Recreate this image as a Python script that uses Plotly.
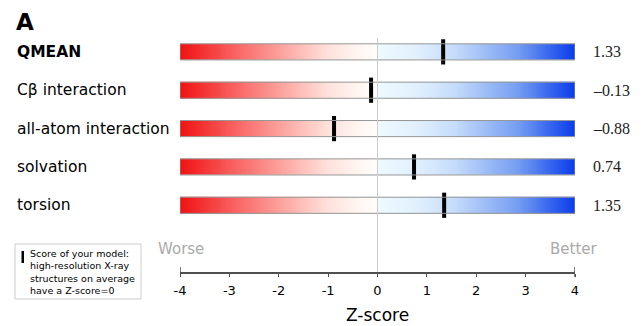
import numpy as np
import plotly.graph_objects as go

# Component scores (Z-scores) of the model
terms = ["QMEAN", "Cβ interaction", "all-atom interaction", "solvation", "torsion"]
scores = [1.33, -0.13, -0.88, 0.74, 1.35]
tick_vals = [-4, -3, -2, -1, 0, 1, 2, 3, 4]
tick_text = ["-4", "-3", "-2", "-1", "0", "1", "2", "3", "4"]

W, H = 644, 326
L, R, T, B = 180, 575, 35, 272          # plot area in pixels
Y_TOP, Y_BOT = -0.44, 5.74              # vertical data range (reversed)
X_MIN, X_MAX = -4, 4


def px(xp):
    return (xp - L) / (R - L)


def py(yp):
    return (B - yp) / (B - T)


idx = list(range(len(terms)))

# gradient bars: colour follows the Z value along each bar
N = 200
dx = (X_MAX - X_MIN) / N
xs = X_MIN + dx / 2 + dx * np.arange(N)
z = [list(xs) for _ in terms]
scale = [
    [0.0, "rgb(240,18,18)"],
    [0.125, "rgb(248,90,90)"],
    [0.25, "rgb(252,160,155)"],
    [0.375, "rgb(255,225,220)"],
    [0.45, "rgb(255,245,240)"],
    [0.499, "rgb(255,253,250)"],
    [0.501, "rgb(238,250,255)"],
    [0.60, "rgb(225,240,253)"],
    [0.70, "rgb(195,218,250)"],
    [0.85, "rgb(120,160,242)"],
    [1.0, "rgb(10,60,235)"],
]

fig = go.Figure()
fig.add_trace(go.Heatmap(
    z=z, x0=X_MIN + dx / 2, dx=dx, y=idx,
    colorscale=scale, zmin=X_MIN, zmax=X_MAX,
    showscale=False, ygap=22, hoverinfo="skip",
))

half = 0.21
shapes = []
for i in idx:
    shapes.append(dict(type="rect", xref="x", yref="y", x0=X_MIN, x1=X_MAX,
                       y0=i - half, y1=i + half,
                       line=dict(color="rgb(150,150,150)", width=1)))

# zero reference line
shapes.append(dict(type="line", xref="x", yref="y", x0=0, x1=0,
                   y0=-0.36, y1=Y_BOT,
                   line=dict(color="rgb(205,205,205)", width=1)))

# end caps of the Z-score ruler
for xv in (X_MIN, X_MAX):
    shapes.append(dict(type="line", xref="x", yref="paper", x0=xv, x1=xv,
                       y0=py(B + 5), y1=py(B - 5),
                       line=dict(color="rgb(80,80,80)", width=1.5)))

# legend box with its marker
shapes.append(dict(type="rect", xref="paper", yref="paper",
                   x0=px(15), x1=px(141), y0=py(299), y1=py(244),
                   line=dict(color="rgb(205,205,205)", width=1),
                   fillcolor="white"))
shapes.append(dict(type="rect", xref="paper", yref="paper",
                   x0=px(21.5), x1=px(24), y0=py(263), y1=py(251),
                   line=dict(width=0), fillcolor="black"))

# model score markers
fig.add_trace(go.Scatter(
    x=scores, y=idx, mode="markers",
    marker=dict(symbol="line-ns", size=18,
                line=dict(color="black", width=4)),
    hoverinfo="skip", showlegend=False,
))

annotations = []
for i, (name, v) in enumerate(zip(terms, scores)):
    label = f"<b>{name}</b>" if name == "QMEAN" else name
    annotations.append(dict(
        xref="paper", yref="y", x=px(15), y=i, xanchor="left", yanchor="middle",
        text=label, showarrow=False,
        font=dict(family="DejaVu Sans", size=15.5, color="black")))
    annotations.append(dict(
        xref="paper", yref="y", x=px(591), y=i, xanchor="left", yanchor="middle",
        text=f"{v:.2f}".replace("-", "–"), showarrow=False,
        font=dict(family="Liberation Serif", size=16, color="#222")))

annotations += [
    dict(xref="paper", yref="paper", x=px(14), y=py(22), xanchor="left",
         yanchor="middle", text="<b>A</b>", showarrow=False,
         font=dict(family="DejaVu Sans", size=23, color="black")),
    dict(xref="paper", yref="paper", x=px(156), y=py(249), xanchor="left",
         yanchor="middle", text="Worse", showarrow=False,
         font=dict(family="DejaVu Sans", size=15, color="rgb(170,170,170)")),
    dict(xref="paper", yref="paper", x=px(600), y=py(249), xanchor="right",
         yanchor="middle", text="Better", showarrow=False,
         font=dict(family="DejaVu Sans", size=15, color="rgb(170,170,170)")),
    dict(xref="paper", yref="paper", x=0.5, y=py(315), xanchor="center",
         yanchor="middle", text="Z-score", showarrow=False,
         font=dict(family="DejaVu Sans", size=17, color="black")),
    dict(xref="paper", yref="paper", x=px(28), y=py(246), xanchor="left",
         yanchor="top", align="left", showarrow=False,
         text="Score of your model:<br>high-resolution X-ray<br>"
              "structures on average<br>have a Z-score=0",
         font=dict(family="DejaVu Sans", size=9.5, color="black")),
]

fig.update_layout(
    width=W, height=H,
    margin=dict(l=L, r=W - R, t=T, b=H - B),
    paper_bgcolor="white", plot_bgcolor="white",
    showlegend=False,
    shapes=shapes, annotations=annotations,
    xaxis=dict(range=[X_MIN, X_MAX], tickvals=tick_vals, ticktext=tick_text,
               showgrid=False, zeroline=False, showline=True,
               linecolor="rgb(80,80,80)", linewidth=1.5,
               ticks="outside", ticklen=3, tickcolor="rgb(80,80,80)",
               ticklabelstandoff=3,
               tickfont=dict(family="DejaVu Sans", size=13, color="black"),
               fixedrange=True),
    yaxis=dict(range=[Y_BOT, Y_TOP], visible=False, fixedrange=True),
)

fig.write_html("out.html")
